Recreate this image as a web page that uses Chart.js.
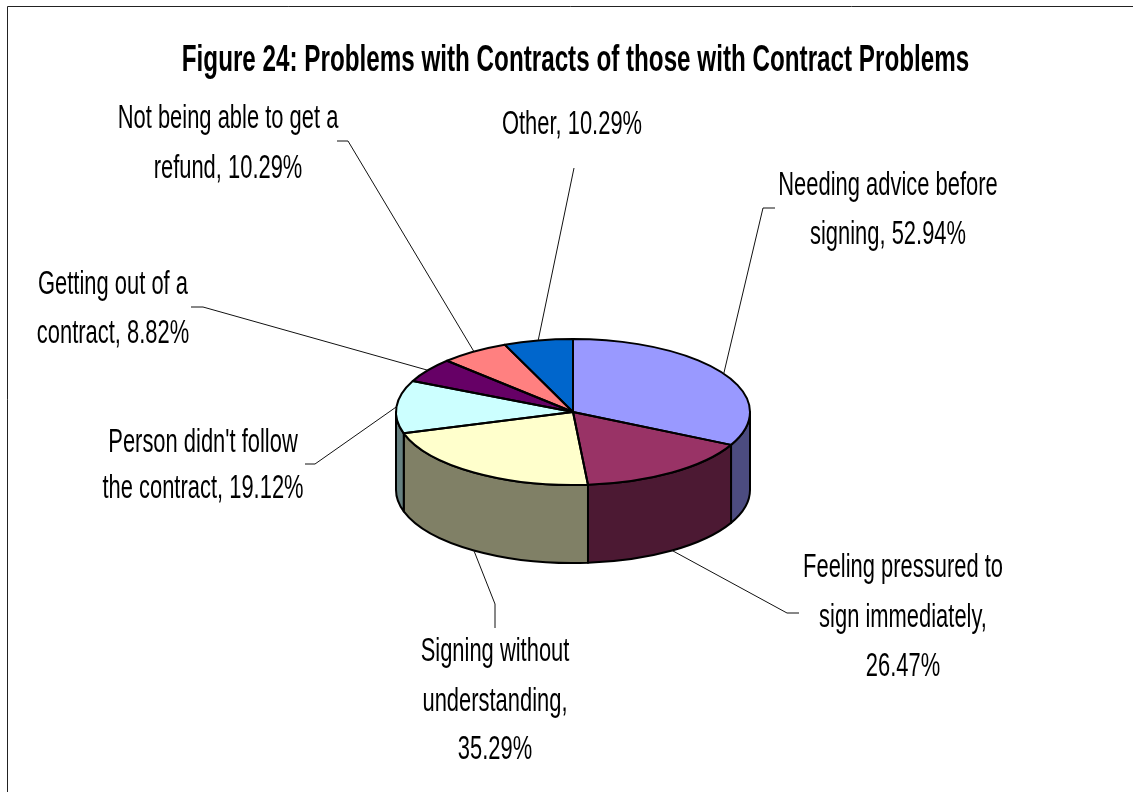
<!DOCTYPE html>
<html>
<head>
<meta charset="utf-8">
<style>html,body{margin:0;padding:0;background:#fff;overflow:hidden}canvas{display:block}</style>
<script src="https://cdn.jsdelivr.net/npm/chart.js@4"></script>
</head>
<body>
<canvas id="c" width="1133" height="792"></canvas>
<script>
const titleText = 'Figure 24: Problems with Contracts of those with Contract Problems';
const categories = ['Needing advice before signing','Feeling pressured to sign immediately','Signing without understanding',"Person didn't follow the contract",'Getting out of a contract','Not being able to get a refund','Other'];
const values = [52.94,26.47,35.29,19.12,8.82,10.29,10.29];
const topColors = ['#9999FF','#993366','#FFFFCC','#CCFFFF','#660066','#FF8080','#0066CC'];
const sideColors = ['#4C4C80','#4C1933','#808066','#668080','#330033','#804040','#003366'];

// Presentation only: squash of the pie, wall depth, leader elbows and label placement.
const RADIUS = 177, FLATTEN = 73/177, DEPTH = 78;
const labelLayout = [
  {maxChars:21, x:888, y:[195,244], leader:[[763,208],[775,208]]},
  {maxChars:20, x:903, y:[577,627,676], leader:[[787,613],[799,613]]},
  {maxChars:15, x:495, y:[661,711,759], leader:[[495,604],[495,628]]},
  {maxChars:20, x:203, y:[452,498], leader:[[315,464],[305,464]]},
  {maxChars:16, x:113, y:[294,343], leader:[[203,307],[191,307]]},
  {maxChars:23, x:228, y:[128,178], leader:[[348,141],[337,141]]},
  {maxChars:13, x:572, y:[134], leader:[[574,168],[574,168]]}
];
const LABEL_SIZE = 34, LABEL_SQUEEZE = 0.645, TITLE_SQUEEZE = 0.703, TITLE_SHIFT = 2.5;

function wrap(text, maxChars){
  const out=[]; let cur='';
  text.split(' ').forEach(w=>{
    if(cur && (cur+' '+w).length>maxChars){out.push(cur);cur=w;} else cur=cur?cur+' '+w:w;
  });
  out.push(cur); return out;
}

const pie3d = {
  id:'pie3d',
  afterLayout(chart){
    const tb=chart.titleBlock;
    if(tb && !tb.__sq){
      tb.__sq=true;
      const d=tb.draw;
      tb.draw=function(){
        const c=this.ctx, cx=(this.left+this.right)/2;
        c.save(); c.translate(cx+TITLE_SHIFT,0); c.scale(TITLE_SQUEEZE,1); c.translate(-cx,0);
        d.apply(this,arguments); c.restore();
      };
    }
  },
  beforeDraw(chart){
    const c=chart.ctx;
    c.save(); c.strokeStyle='#222'; c.lineWidth=1;
    c.beginPath(); c.moveTo(7.5,792); c.lineTo(7.5,6.5); c.lineTo(1133,6.5); c.stroke();
    c.restore();
  },
  beforeDatasetsDraw(chart){
    const c=chart.ctx, arcs=chart.getDatasetMeta(0).data;
    c.save();
    c.lineJoin='round'; c.strokeStyle='#000'; c.lineWidth=2;
    arcs.forEach((a,i)=>{
      const p=a.getProps(['x','y','startAngle','endAngle','outerRadius'],true);
      const s=Math.max(p.startAngle,0), e=Math.min(p.endAngle,Math.PI);
      if(e<=s) return;
      const ry=p.outerRadius*FLATTEN;
      c.beginPath();
      c.ellipse(p.x,p.y,p.outerRadius,ry,0,s,e);
      c.ellipse(p.x,p.y+DEPTH,p.outerRadius,ry,0,e,s,true);
      c.closePath();
      c.fillStyle=sideColors[i]; c.fill(); c.stroke();
    });
    c.restore();
    const a=arcs[0];
    c.save();
    c.translate(0,a.y); c.scale(1,FLATTEN); c.translate(0,-a.y);
  },
  afterDatasetsDraw(chart){
    const c=chart.ctx, arcs=chart.getDatasetMeta(0).data;
    c.restore();
    c.save();
    c.lineJoin='round'; c.strokeStyle='#000'; c.lineWidth=2;
    arcs.forEach(a=>{
      const p=a.getProps(['x','y','startAngle','endAngle','outerRadius'],true);
      c.beginPath(); c.moveTo(p.x,p.y);
      c.ellipse(p.x,p.y,p.outerRadius,p.outerRadius*FLATTEN,0,p.startAngle,p.endAngle);
      c.closePath(); c.stroke();
    });
    // leaders
    c.lineWidth=1; c.strokeStyle='#111';
    arcs.forEach((a,i)=>{
      const p=a.getProps(['x','y','startAngle','endAngle','outerRadius'],true);
      const mid=(p.startAngle+p.endAngle)/2;
      const front=Math.sin(mid)>0.3;
      const ax=p.x+p.outerRadius*Math.cos(mid);
      const ay=p.y+p.outerRadius*FLATTEN*Math.sin(mid)+(front?DEPTH:0);
      c.beginPath(); c.moveTo(ax,ay);
      labelLayout[i].leader.forEach(q=>c.lineTo(q[0],q[1]));
      c.stroke();
    });
    // labels
    c.fillStyle='#000'; c.textAlign='center'; c.textBaseline='alphabetic';
    c.font=LABEL_SIZE+'px "Liberation Sans"';
    categories.forEach((name,i)=>{
      const L=labelLayout[i];
      wrap(name+', '+values[i].toFixed(2)+'%',L.maxChars).forEach((t,j)=>{
        c.save(); c.translate(L.x,L.y[j]); c.scale(LABEL_SQUEEZE,1); c.fillText(t,0,0); c.restore();
      });
    });
    c.restore();
  }
};

new Chart(document.getElementById('c'),{
  type:'pie',
  data:{labels:categories,datasets:[{data:values,backgroundColor:topColors,borderWidth:0,radius:RADIUS}]},
  options:{
    responsive:false,animation:false,
    layout:{padding:{left:13,right:0,top:0,bottom:203}},
    plugins:{
      legend:{display:false},tooltip:{enabled:false},
      title:{display:true,text:titleText,color:'#000',
        font:{family:'"Liberation Sans"',size:36,weight:'bold',lineHeight:1.2},
        padding:{top:39,bottom:235-39-43.2}}
    }
  },
  plugins:[pie3d]
});
</script>
</body>
</html>
